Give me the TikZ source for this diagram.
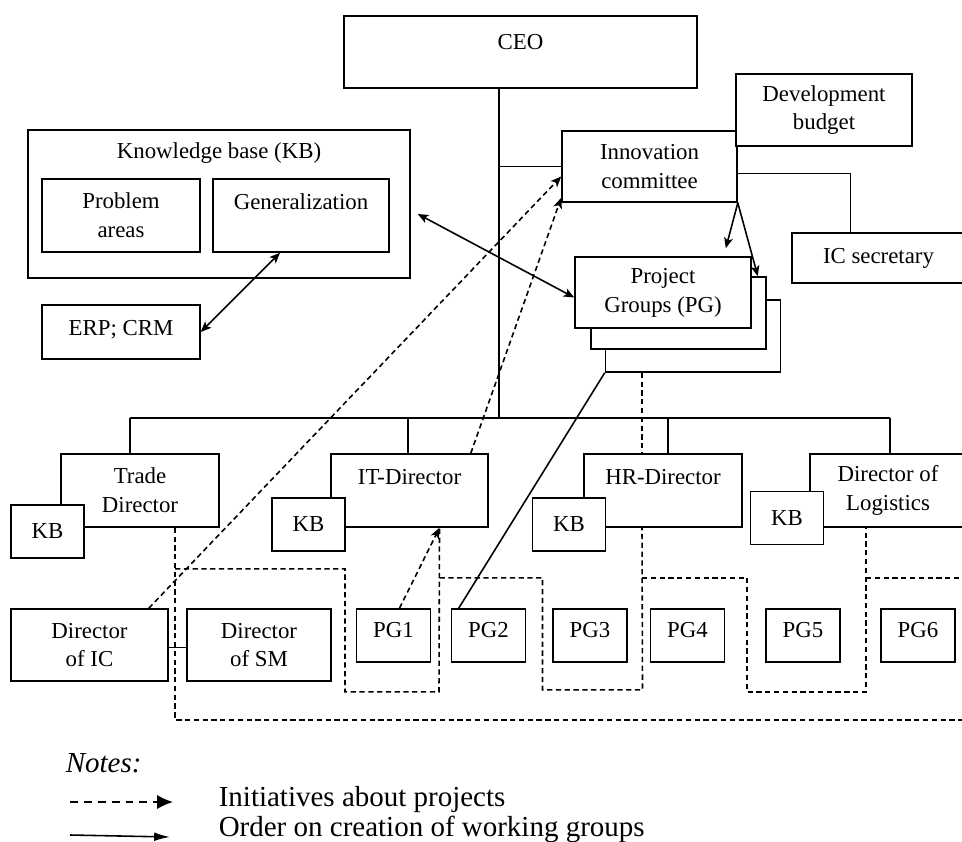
\documentclass[tikz,border=0pt]{standalone}
\usepackage{fontspec}
\setmainfont{Liberation Serif}
\usetikzlibrary{arrows, arrows.meta, calc}

\newcommand{\boxfont}{\fontsize{13}{16.4}\selectfont}
\newcommand{\notefont}{\fontsize{16.5}{17}\selectfont}

\begin{document}
\begin{tikzpicture}[
  x=0.02cm, y=-0.02cm,
  wh/.style 2 args={minimum width=#1*0.02cm, minimum height=#2*0.02cm},
  box/.style={draw, fill=white, align=center, inner sep=1pt,
              font=\boxfont},
  kbbox/.style={box, wh={73}{53}},
  pgbox/.style={box, wh={74}{53}, text depth=6.8pt},
  initl/.style={dash pattern=on 3pt off 2pt},
  legtip/.style={-{Latex[length=9pt, width=#1]}},
  >={Stealth[length=6pt, width=5pt, inset=1.5pt]}, line width=0.9pt
]
\useasboundingbox (0,0) rectangle (962,841);
\clip (0,0) rectangle (962,841);

% top of the chart
\node[box, wh={353}{72}, text depth=11.3pt] (ceo) at (520.5,52) {CEO};
\node[box, wh={175}{71}] (innov) at (649.5,166.5) {Innovation\\committee};
\node[box, wh={176}{72}] (budget) at (824,110) {Development\\budget};
\node[box, wh={173}{50}] (icsec) at (878.5,258) {IC secretary};

% knowledge base
\node[box, wh={382}{148}] (kb) at (219,204) {};
\node[font=\boxfont] (kbtitle) at (219,153) {Knowledge base (KB)};
\node[box, wh={158}{73}] (probl) at (121,215.5) {Problem\\areas};
\node[box, wh={176}{73}, text depth=16.4pt] (gener) at (301,215.5)
    {Generalization};
\node[box, wh={158}{54}, text depth=5pt] (erp) at (121,332) {ERP; CRM};

% stacked project groups
\node[box, wh={175}{72}] (pgC) at (693,336) {};
\node[box, wh={175}{72}] (pgB) at (678.5,313) {};
\node[box, wh={176}{71}] (pgA) at (663,292.5) {Project\\Groups (PG)};

% directors with their knowledge bases
\node[box, wh={158}{73}] (trade) at (140,490.5) {Trade\\Director};
\node[kbbox] (kbT) at (47.5,531.5) {KB};
\node[box, wh={157}{73}, text depth=15.3pt] (itdir) at (409.5,490.5)
    {IT-Director};
\node[kbbox] (kbI) at (308.5,524.5) {KB};
\node[box, wh={158}{73}, text depth=15.3pt] (hrdir) at (663,490.5)
    {HR-Director};
\node[kbbox] (kbH) at (569,524.5) {KB};
\node[box, wh={156}{73}] (logdir) at (888,490.5) {Director of\\Logistics};
\node[kbbox] (kbL) at (787,518) {KB};

% bottom row
\node[box, wh={157}{72}] (dirIC) at (89.5,645) {Director\\of IC};
\node[box, wh={144}{72}] (dirSM) at (259,645) {Director\\of SM};
\foreach \n/\x in {1/393.5, 2/488.5, 3/590, 4/687.5, 5/803, 6/918}
  \node[pgbox] (pg\n) at (\x,635.5) {PG\n};

% line structure
\coordinate (bus) at (499,418);
\coordinate (dT) at (130,418);
\coordinate (dI) at (408,418);
\coordinate (dH) at (668,418);
\coordinate (dL) at (890,418);
\draw (bus |- ceo.south) -- (bus);
\draw (innov.west) -- (innov.west -| bus);
\draw (dT) -- (dL);
\foreach \d/\n in {dT/trade, dI/itdir, dH/hrdir, dL/logdir}
  \draw (\d) -- (\d |- \n.north);
\draw ([yshift=-4pt]innov.east) -| ([xshift=-16pt]icsec.north);
\draw ([yshift=-1.5pt]dirIC.east) -- ([yshift=-1.5pt]dirSM.west);

% orders and links
\draw[->] (innov.south east) -- ($(pgA.north east)+(-26,-8)$);
\draw[->] (innov.south east) -- ($(pgB.north east)+(-9,0)$);
\draw[<->] ($(kb.east)+(7,10)$) -- ($(pgA.west)+(0,5)$);
\draw[<->] ($(gener.south)+(-21,0)$) -- (erp.east);
\draw (pgC.south west) -- ($(pg2.north west)+(8,0)$);

% initiatives
\draw[initl, ->] ($(dirIC.north east)+(-20,0)$) -- ($(innov.west)+(0,10)$);
\draw[initl, ->] ($(itdir.north east)+(-18,0)$)
    -- ($(innov.south west)+(0,-5)$);
\draw[initl, ->] ($(pg1.north)+(6,0)$) -- ($(itdir.south)+(30,0)$);

% dashed groups under the directors
\coordinate (tT) at ($(trade.south)+(35,0)$);
\coordinate (tI) at ($(itdir.south)+(30,0)$);
\coordinate (tH) at ($(hrdir.south)+(-21,0)$);
\coordinate (tL) at ($(logdir.south)+(-22,0)$);
\draw[initl] (pgC.south -| tH) -- (hrdir.north -| tH);
\draw[initl] (tT) -- ++(0,192) -- ++(800,0);
\draw[initl] ($(tT)+(0,41)$) -- ++(170,0) -- ++(0,123) -- ++(94,0) -- (tI);
\draw[initl] ($(tI)+(0,50)$) -- ++(103,0) -- ++(0,112) -- ++(100,0) -- (tH);
\draw[initl] ($(tH)+(0,50)$) -- ++(105,0) -- ++(0,114) -- ++(119,0) -- (tL);
\draw[initl] ($(tL)+(0,50)$) -- ++(110,0);

% notes
\node[font=\notefont\itshape, anchor=base west, inner sep=0pt] (notes)
    at (65,772) {Notes:};
\node[font=\notefont, anchor=base west, inner sep=0pt] (leg1)
    at (218,806) {Initiatives about projects};
\node[font=\notefont, anchor=base west, inner sep=0pt] (leg2)
    at (218,836) {Order on creation of working groups};
\coordinate (l1a) at (70,802);
\coordinate (l1b) at (173,802);
\coordinate (l2a) at (70,835);
\coordinate (l2b) at (170,837);
\draw[legtip=8pt, dash pattern=on 4.5pt off 3.4pt] (l1a) -- (l1b);
\draw[legtip=5pt] (l2a) -- (l2b);
\end{tikzpicture}
\end{document}
